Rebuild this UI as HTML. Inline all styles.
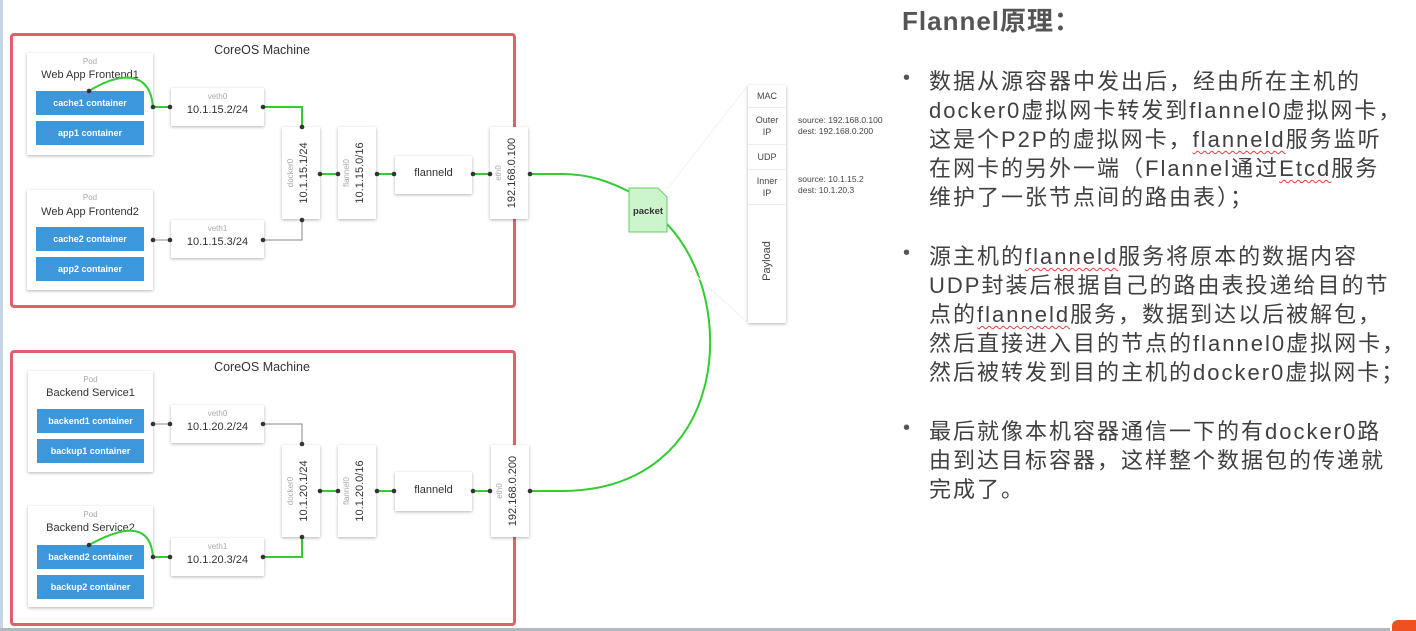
<!DOCTYPE html>
<html><head><meta charset="utf-8">
<style>
*{margin:0;padding:0;box-sizing:border-box}
html,body{width:1416px;height:631px;overflow:hidden;background:#fff;position:relative;font-family:"Liberation Sans","Noto Sans CJK SC",sans-serif}
.a{position:absolute}
.mach{position:absolute;border:3px solid #e0606c;border-radius:4px}
.box{position:absolute;background:#fff;box-shadow:0 1px 3px rgba(0,0,0,.3)}
.ct{position:absolute;background:#3d97db;color:#fff;font-size:9px;text-align:center;line-height:24px;font-weight:bold}
.sm{font-size:8px;color:#aaa;text-align:center}
.lb{font-size:11px;color:#333;text-align:center}
.vt{position:absolute;transform:rotate(-90deg);transform-origin:center;white-space:nowrap;text-align:center;width:90px;height:14px;line-height:14px}
.vs{font-size:8px;color:#aaa}
.vi{font-size:11px;color:#333}
.t{position:absolute;left:929px;font-size:22px;color:#404040;white-space:nowrap;font-family:"Liberation Sans","Noto Sans CJK SC",sans-serif;letter-spacing:2px}
.b{position:absolute;left:903px;font-size:20px;color:#555}
.u{text-decoration:underline wavy #e04040;text-decoration-thickness:1px;text-underline-offset:3px}
</style></head><body>
<div class="a" style="left:0;top:0;width:3px;height:631px;background:#c8d4e4"></div>
<div class="a" style="left:0;top:628px;width:1390px;height:3px;background:#b0b8c0"></div>
<div class="a" style="left:1392px;top:620px;width:24px;height:11px;background:#f05020;border-radius:6px 0 0 0"></div>

<!-- top machine -->
<div class="mach" style="left:10px;top:33px;width:506px;height:275px"></div>
<div class="a lb" style="left:162px;top:43px;width:200px;font-size:12.5px">CoreOS Machine</div>
<div class="box" style="left:27px;top:53px;width:126px;height:102px"></div>
<div class="a sm" style="left:27px;top:57px;width:126px">Pod</div>
<div class="a lb" style="left:27px;top:69px;width:126px">Web App Frontend1</div>
<div class="ct" style="left:36px;top:91px;width:108px">cache1 container</div>
<div class="ct" style="left:36px;top:121px;width:108px">app1 container</div>
<div class="box" style="left:27px;top:190px;width:126px;height:100px"></div>
<div class="a sm" style="left:27px;top:193px;width:126px">Pod</div>
<div class="a lb" style="left:27px;top:206px;width:126px">Web App Frontend2</div>
<div class="ct" style="left:36px;top:227px;width:108px">cache2 container</div>
<div class="ct" style="left:36px;top:257px;width:108px">app2 container</div>
<div class="box" style="left:171px;top:88px;width:93px;height:38px"></div>
<div class="a sm" style="left:171px;top:92px;width:93px">veth0</div>
<div class="a lb" style="left:171px;top:104px;width:93px">10.1.15.2/24</div>
<div class="box" style="left:171px;top:220px;width:93px;height:38px"></div>
<div class="a sm" style="left:171px;top:224px;width:93px">veth1</div>
<div class="a lb" style="left:171px;top:236px;width:93px">10.1.15.3/24</div>
<div class="box" style="left:282px;top:127px;width:38px;height:92px"></div>
<div class="box" style="left:338px;top:127px;width:38px;height:92px"></div>
<div class="box" style="left:395px;top:156px;width:77px;height:38px"></div>
<div class="a lb" style="left:395px;top:167px;width:77px">flanneld</div>
<div class="box" style="left:490px;top:127px;width:38px;height:92px"></div>
<div class="vt vs" style="left:246px;top:166px">docker0</div>
<div class="vt vi" style="left:259px;top:166px">10.1.15.1/24</div>
<div class="vt vs" style="left:302px;top:166px">flannel0</div>
<div class="vt vi" style="left:315px;top:166px">10.1.15.0/16</div>
<div class="vt vs" style="left:454px;top:166px">eth0</div>
<div class="vt vi" style="left:467px;top:166px">192.168.0.100</div>

<!-- bottom machine -->
<div class="mach" style="left:10px;top:350px;width:506px;height:276px"></div>
<div class="a lb" style="left:162px;top:360px;width:200px;font-size:12.5px">CoreOS Machine</div>
<div class="box" style="left:28px;top:371px;width:125px;height:101px"></div>
<div class="a sm" style="left:28px;top:375px;width:125px">Pod</div>
<div class="a lb" style="left:28px;top:387px;width:125px">Backend Service1</div>
<div class="ct" style="left:37px;top:409px;width:107px">backend1 container</div>
<div class="ct" style="left:37px;top:439px;width:107px">backup1 container</div>
<div class="box" style="left:28px;top:506px;width:125px;height:101px"></div>
<div class="a sm" style="left:28px;top:510px;width:125px">Pod</div>
<div class="a lb" style="left:28px;top:522px;width:125px">Backend Service2</div>
<div class="ct" style="left:37px;top:545px;width:107px">backend2 container</div>
<div class="ct" style="left:37px;top:575px;width:107px">backup2 container</div>
<div class="box" style="left:171px;top:405px;width:93px;height:38px"></div>
<div class="a sm" style="left:171px;top:409px;width:93px">veth0</div>
<div class="a lb" style="left:171px;top:421px;width:93px">10.1.20.2/24</div>
<div class="box" style="left:171px;top:538px;width:93px;height:38px"></div>
<div class="a sm" style="left:171px;top:542px;width:93px">veth1</div>
<div class="a lb" style="left:171px;top:554px;width:93px">10.1.20.3/24</div>
<div class="box" style="left:282px;top:445px;width:38px;height:92px"></div>
<div class="box" style="left:338px;top:445px;width:38px;height:92px"></div>
<div class="box" style="left:395px;top:472px;width:77px;height:39px"></div>
<div class="a lb" style="left:395px;top:484px;width:77px">flanneld</div>
<div class="box" style="left:491px;top:445px;width:38px;height:92px"></div>
<div class="vt vs" style="left:246px;top:484px">docker0</div>
<div class="vt vi" style="left:259px;top:484px">10.1.20.1/24</div>
<div class="vt vs" style="left:302px;top:484px">flannel0</div>
<div class="vt vi" style="left:315px;top:484px">10.1.20.0/16</div>
<div class="vt vs" style="left:455px;top:484px">eth0</div>
<div class="vt vi" style="left:468px;top:484px">192.168.0.200</div>

<!-- packet layers -->
<div class="box" style="left:748px;top:85px;width:38px;height:238px"></div>
<div class="a" style="left:748px;top:85px;width:38px;font-size:9px;color:#444;text-align:center">
<div style="height:23px;line-height:23px;border-bottom:1px solid #eee">MAC</div>
<div style="height:37px;padding-top:6px;line-height:12px;border-bottom:1px solid #eee">Outer<br>IP</div>
<div style="height:25px;line-height:25px;border-bottom:1px solid #eee">UDP</div>
<div style="height:35px;padding-top:5px;line-height:12px;border-bottom:1px solid #eee">Inner<br>IP</div>
</div>
<div class="vt" style="left:722px;top:254px;font-size:11px;color:#444">Payload</div>
<div class="a" style="left:798px;top:115px;font-size:8.5px;color:#444;line-height:11px">source: 192.168.0.100<br>dest: 192.168.0.200</div>
<div class="a" style="left:798px;top:174px;font-size:8.5px;color:#444;line-height:11px">source: 10.1.15.2<br>dest: 10.1.20.3</div>

<svg class="a" style="left:0;top:0" width="1416" height="631">
<g fill="none" stroke-width="2">
<path d="M153 107H170M263 107H302V127" stroke="#33cc33"/>
<path d="M89 91C120 72 150 70 153 107" stroke="#33cc33"/>
<path d="M153 240H170M263 240H302V220" stroke="#888" stroke-width="1"/>
<path d="M320 174H338M377 174H394M473 174H490M530 174H562C590 174 610 182 630 192" stroke="#33cc33"/>
<path d="M667 224C740 300 730 490 562 491H530" stroke="#33cc33"/>
<path d="M320 491H338M377 491H394M473 491H490" stroke="#33cc33"/>
<path d="M153 424H170M263 424H302V444" stroke="#888" stroke-width="1"/>
<path d="M153 557H170M263 557H302V537" stroke="#33cc33"/>
<path d="M89 545C120 528 150 520 153 557" stroke="#33cc33"/>
<path d="M668 188L748 85M690 270L748 323" stroke="#f2f2f2" stroke-width="1"/>
</g>
<path d="M629 188H658L667 197V232H629Z" fill="#ccf5cc" stroke="#6c6" stroke-width="1"/>
<text x="648" y="214" font-size="9.5" font-weight="bold" fill="#333" text-anchor="middle" font-family="Liberation Sans">packet</text>
<g fill="#333">
<circle cx="89" cy="91" r="2.3"/><circle cx="153" cy="107" r="2.3"/><circle cx="170" cy="107" r="2.3"/><circle cx="263" cy="107" r="2.3"/><circle cx="302" cy="127" r="2.3"/>
<circle cx="153" cy="240" r="2.3"/><circle cx="170" cy="240" r="2.3"/><circle cx="263" cy="240" r="2.3"/><circle cx="302" cy="220" r="2.3"/>
<circle cx="320" cy="174" r="2.3"/><circle cx="338" cy="174" r="2.3"/><circle cx="377" cy="174" r="2.3"/><circle cx="394" cy="174" r="2.3"/><circle cx="473" cy="174" r="2.3"/><circle cx="490" cy="174" r="2.3"/><circle cx="530" cy="174" r="2.3"/>
<circle cx="320" cy="491" r="2.3"/><circle cx="338" cy="491" r="2.3"/><circle cx="377" cy="491" r="2.3"/><circle cx="394" cy="491" r="2.3"/><circle cx="473" cy="491" r="2.3"/><circle cx="490" cy="491" r="2.3"/><circle cx="530" cy="491" r="2.3"/>
<circle cx="153" cy="424" r="2.3"/><circle cx="170" cy="424" r="2.3"/><circle cx="263" cy="424" r="2.3"/><circle cx="302" cy="444" r="2.3"/>
<circle cx="89" cy="545" r="2.3"/><circle cx="153" cy="557" r="2.3"/><circle cx="170" cy="557" r="2.3"/><circle cx="263" cy="557" r="2.3"/><circle cx="302" cy="537" r="2.3"/>
</g>
</svg>

<!-- right text -->
<div class="a" style="left:902px;top:1px;font-size:26px;font-weight:bold;color:#555;white-space:nowrap;letter-spacing:1px">Flannel原理：</div>
<div class="b" style="top:67px">•</div>
<div class="t" style="top:64px">数据从源容器中发出后，经由所在主机的</div>
<div class="t" style="top:93px">docker0虚拟网卡转发到flannel0虚拟网卡，</div>
<div class="t" style="top:122px">这是个P2P的虚拟网卡，<span class="u">flanneld</span>服务监听</div>
<div class="t" style="top:151px">在网卡的另外一端（Flannel通过<span class="u">Etcd</span>服务</div>
<div class="t" style="top:180px">维护了一张节点间的路由表）；</div>
<div class="b" style="top:242px">•</div>
<div class="t" style="top:239px">源主机的<span class="u">flanneld</span>服务将原本的数据内容</div>
<div class="t" style="top:268px">UDP封装后根据自己的路由表投递给目的节</div>
<div class="t" style="top:297px">点的<span class="u">flanneld</span>服务，数据到达以后被解包，</div>
<div class="t" style="top:326px">然后直接进入目的节点的flannel0虚拟网卡，</div>
<div class="t" style="top:355px">然后被转发到目的主机的docker0虚拟网卡；</div>
<div class="b" style="top:417px">•</div>
<div class="t" style="top:414px">最后就像本机容器通信一下的有docker0路</div>
<div class="t" style="top:443px">由到达目标容器，这样整个数据包的传递就</div>
<div class="t" style="top:472px">完成了。</div>
</body></html>
